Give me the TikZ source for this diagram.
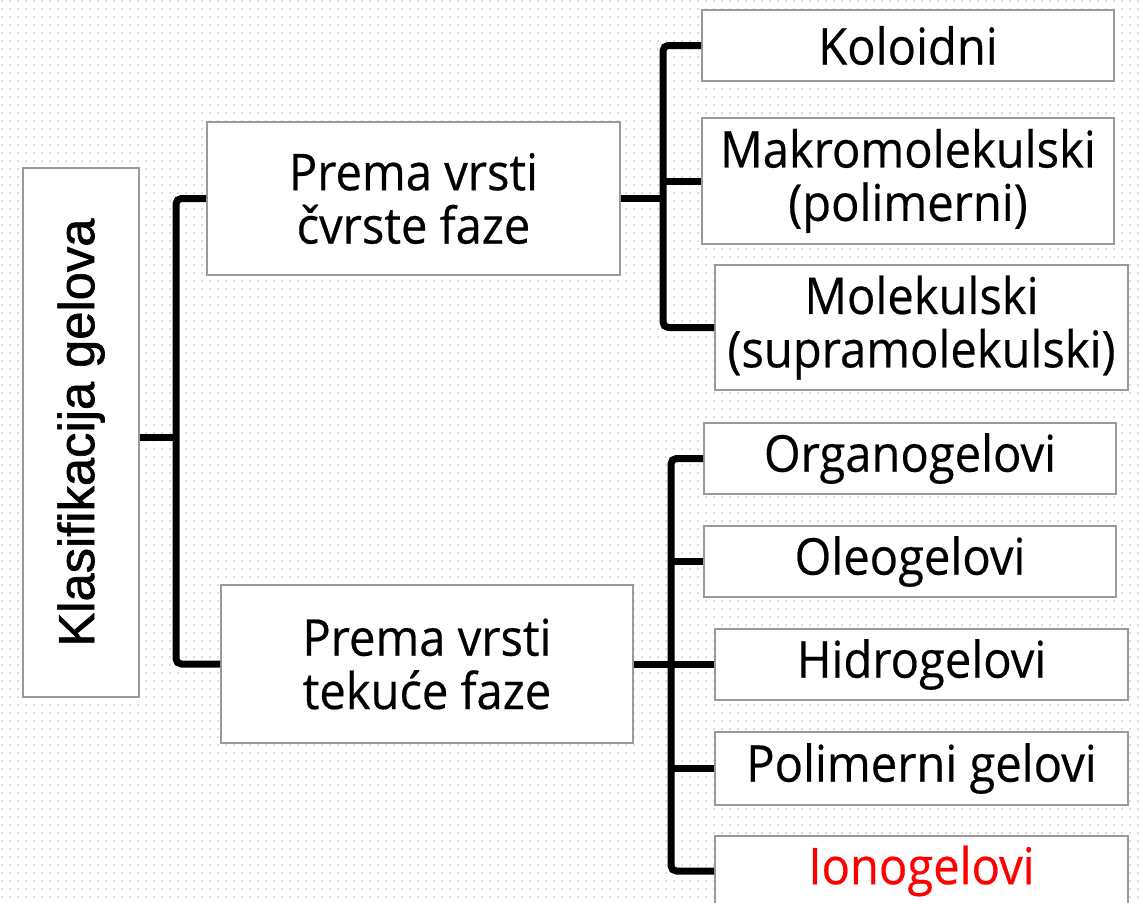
\documentclass[tikz,border=0pt]{standalone}
\usepackage{fontspec}
\setmainfont{Open Sans}[FakeStretch=0.93,FakeBold=0.4]
\newfontfamily\arialf{Liberation Sans}[FakeBold=1.2]
\definecolor{boxline}{HTML}{9A9A9A}
\definecolor{dotc}{HTML}{DEDEDE}
\definecolor{ired}{HTML}{FF0000}
\tikzset{
  box/.style={draw=boxline,line width=1.5pt,fill=white,inner sep=0pt,align=center,
    font=\fontsize{38}{40}\selectfont},
  conn/.style={line width=5.25pt,black,rounded corners=4pt},
}
\begin{document}
\begin{tikzpicture}[x=0.75pt,y=-0.75pt]
\useasboundingbox (0,0) rectangle (1140,903);
\clip (0,0) rectangle (1140,903);
\fill[white] (0,0) rectangle (1140,903);
% dotted background grid
\foreach \yy in {1,9,...,903}{
  \draw[dotc,line width=1.3pt,dash pattern=on 1.3pt off 4.7pt] (1,\yy) -- (1140,\yy);
}
% nodes
\node[box,minimum width=87pt,minimum height=396.75pt,font=\arialf\fontsize{38}{40}\selectfont] (main) at (81,432.5)
  {\rotatebox{90}{Klasifikacija gelova}};
\node[box,minimum width=309.75pt,minimum height=114.75pt] (A) at (413.5,198.5) {Prema vrsti\\čvrste faze};
\node[box,minimum width=309pt,minimum height=118.5pt] (B) at (427,664) {Prema vrsti\\tekuće faze};
\node[box,minimum width=309pt,minimum height=53.25pt] (k1) at (908,45.5) {Koloidni};
\node[box,minimum width=309pt,minimum height=94.5pt] (k2) at (908,181) {Makromolekulski\\(polimerni)};
\node[box,minimum width=309.75pt,minimum height=93.75pt] (k3) at (921.5,327.5) {Molekulski\\(supramolekulski)};
\node[box,minimum width=309pt,minimum height=53.25pt] (t1n) at (910,458.5) {Organogelovi};
\node[box,minimum width=309pt,minimum height=53.25pt] (t2n) at (910,561.5) {Oleogelovi};
\node[box,minimum width=309.75pt,minimum height=53.25pt] (t3n) at (921.5,664.5) {Hidrogelovi};
\node[box,minimum width=309.75pt,minimum height=54.75pt] (t4n) at (921.5,768.5) {Polimerni gelovi};
\node[box,minimum width=309.75pt,minimum height=53.25pt,text=ired] (t5n) at (921.5,871) {Ionogelovi};
% junctions
\coordinate (j0) at (176,437);
\coordinate (j1) at (663,198.5);
\coordinate (j2) at (671,664);
% connectors
\draw[conn] (main.east |- j0) -- (j0);
\draw[conn] (A.west) -| (j0) |- (B.west);
\draw[conn] (A.east) -- (j1);
\draw[conn] (k1.west) -| (j1) |- (k3.west);
\draw[conn] (j1 |- k2.west) -- (k2.west);
\draw[conn] (B.east) -- (j2);
\draw[conn] (t1n.west) -| (j2) |- (t5n.west);
\draw[conn] (j2 |- t2n.west) -- (t2n.west);
\draw[conn] (j2 |- t3n.west) -- (t3n.west);
\draw[conn] (j2 |- t4n.west) -- (t4n.west);
\end{tikzpicture}
\end{document}
